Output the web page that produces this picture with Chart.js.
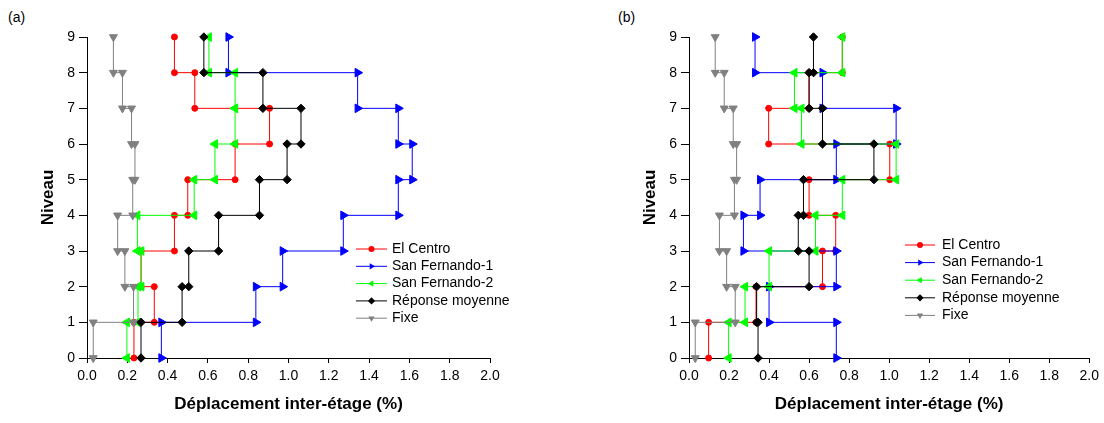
<!DOCTYPE html>
<html>
<head>
<meta charset="utf-8">
<script src="https://cdn.jsdelivr.net/npm/chart.js@4/dist/chart.umd.min.js"></script>
<style>
  body { margin: 0; background: #fff; width: 1104px; height: 423px; position: relative; overflow: hidden;
         font-family: "Liberation Sans", Arial, sans-serif; }
  .panel { position: absolute; top: 0; }
  .tag { position: absolute; top: 9px; font-size: 14px; line-height: 16px; color: #000; }
</style>
</head>
<body>
<div class="tag" style="left:8px">(a)</div>
<div class="tag" style="left:618px">(b)</div>
<div class="panel" style="left:0"><canvas id="chartA" width="560" height="423"></canvas></div>
<div class="panel" style="left:602px"><canvas id="chartB" width="502" height="423"></canvas></div>
<script>
// ===== data =====
const levels = [0, 1, 2, 3, 4, 5, 6, 7, 8, 9];
const seriesNames = ["El Centro", "San Fernando-1", "San Fernando-2", "Réponse moyenne", "Fixe"];
const xTicks = [0.0, 0.2, 0.4, 0.6, 0.8, 1.0, 1.2, 1.4, 1.6, 1.8, 2.0];
const yTicks = [0, 1, 2, 3, 4, 5, 6, 7, 8, 9];

// storey drifts (%) for storeys 1..9 - panel (a)
const elCentroA     = [0.233, 0.334, 0.268, 0.434, 0.500, 0.735, 0.906, 0.535, 0.434];
const sanFernando1A = [0.369, 0.838, 0.971, 1.272, 1.545, 1.614, 1.545, 1.343, 0.702];
const sanFernando2A = [0.198, 0.253, 0.270, 0.250, 0.532, 0.635, 0.735, 0.735, 0.605];
const moyenneA      = [0.268, 0.472, 0.505, 0.653, 0.856, 0.993, 1.062, 0.873, 0.580];
const fixeA         = [0.031, 0.231, 0.188, 0.152, 0.227, 0.238, 0.221, 0.176, 0.131];

// panel (b)
const elCentroB     = [0.098, 0.335, 0.667, 0.733, 0.600, 1.003, 0.398, 0.600, 0.766];
const sanFernando1B = [0.736, 0.400, 0.736, 0.272, 0.355, 0.736, 1.035, 0.667, 0.330];
const sanFernando2B = [0.198, 0.280, 0.400, 0.632, 0.766, 1.035, 0.562, 0.527, 0.766];
const moyenneB      = [0.345, 0.338, 0.600, 0.546, 0.572, 0.924, 0.667, 0.600, 0.622];
const fixeB         = [0.031, 0.231, 0.188, 0.152, 0.227, 0.238, 0.221, 0.176, 0.131];

// ===== styles =====
const FONT = "'Liberation Sans', Arial, sans-serif";
const styles = [
  { color: "#ff0000", pointStyle: "circle", rotation: 0, radius: 3 },
  { color: "#0000ff", pointStyle: "triangle", rotation: 90, radius: 5 },
  { color: "#00ff00", pointStyle: "triangle", rotation: -90, radius: 5 },
  { color: "#000000", pointStyle: "rectRot", rotation: 0, radius: 4.2 },
  { color: "#808080", pointStyle: "triangle", rotation: 180, radius: 4.6 },
];

// drift of storey i runs vertically from level i-1 to level i
function stepProfile(drifts) {
  const pts = [];
  drifts.forEach((d, i) => {
    pts.push({ x: d, y: levels[i] }, { x: d, y: levels[i + 1] });
  });
  return pts;
}

function makeDatasets(series) {
  return series.map((drifts, i) => ({
    label: seriesNames[i],
    data: stepProfile(drifts),
    showLine: true,
    borderColor: styles[i].color,
    backgroundColor: styles[i].color,
    pointBackgroundColor: styles[i].color,
    pointBorderColor: styles[i].color,
    pointStyle: styles[i].pointStyle,
    pointRotation: styles[i].rotation,
    pointRadius: styles[i].radius,
    pointHoverRadius: styles[i].radius,
    pointBorderWidth: 1,
    borderWidth: 1,
    clip: false,
    order: series.length - i,
  }));
}

// ===== legend drawn inside the plot =====
const stepLegend = {
  id: "stepLegend",
  afterDraw(chart, args, opts) {
    const ctx = chart.ctx;
    ctx.save();
    ctx.font = "14px " + FONT;
    ctx.textBaseline = "middle";
    ctx.textAlign = "left";
    chart.data.datasets.forEach((ds, i) => {
      const y = opts.y + i * opts.rowGap;
      ctx.strokeStyle = ds.borderColor;
      ctx.lineWidth = 1;
      ctx.beginPath();
      ctx.moveTo(opts.x, y);
      ctx.lineTo(opts.x + opts.lineLen, y);
      ctx.stroke();
      ctx.fillStyle = ds.pointBackgroundColor;
      Chart.helpers.drawPoint(ctx, {
        pointStyle: ds.pointStyle, rotation: ds.pointRotation,
        radius: ds.pointStyle === "circle" ? 3 : 3.6, borderWidth: 0,
      }, opts.x + opts.lineLen / 2, y);
      ctx.fillStyle = "#000";
      ctx.fillText(ds.label, opts.x + opts.lineLen + opts.gap, y);
    });
    ctx.restore();
  },
};

function makeChart(id, series, legendPos, padRight) {
  return new Chart(document.getElementById(id), {
    type: "scatter",
    data: { datasets: makeDatasets(series) },
    options: {
      responsive: false,
      animation: false,
      layout: { padding: { left: 34, right: padRight, top: 37, bottom: 4 } },
      plugins: {
        legend: { display: false },
        tooltip: { enabled: false },
        stepLegend: legendPos,
      },
      scales: {
        x: {
          type: "linear", min: 0, max: 2,
          afterBuildTicks: (axis) => { axis.ticks = xTicks.map((v) => ({ value: v })); },
          afterFit: (axis) => { axis.height = 61; },
          ticks: {
            callback: (v) => Number(v).toFixed(1),
            font: { size: 14, family: FONT }, color: "#000", padding: 5,
            maxRotation: 0, autoSkip: false,
          },
          grid: { drawOnChartArea: false, drawTicks: true, tickLength: 5, color: "#000" },
          border: { display: true, color: "#000", width: 1 },
          title: {
            display: true, text: "Déplacement inter-étage (%)", color: "#000",
            font: { size: 17, weight: "bold", family: FONT }, padding: { top: 4, bottom: 4 },
          },
        },
        y: {
          type: "linear", min: 0, max: 9,
          afterBuildTicks: (axis) => { axis.ticks = yTicks.map((v) => ({ value: v })); },
          afterFit: (axis) => { axis.width = 53; },
          ticks: { font: { size: 14, family: FONT }, color: "#000", padding: 4, autoSkip: false },
          grid: { drawOnChartArea: false, drawTicks: true, tickLength: 8, color: "#000" },
          border: { display: true, color: "#000", width: 1 },
          title: {
            display: true, text: "Niveau", color: "#000",
            font: { size: 17, weight: "bold", family: FONT }, padding: { top: 4, bottom: 4 },
          },
        },
      },
    },
    plugins: [stepLegend],
  });
}

makeChart("chartA", [elCentroA, sanFernando1A, sanFernando2A, moyenneA, fixeA],
  { x: 356, y: 249, rowGap: 17.3, lineLen: 31, gap: 5 }, 70);
makeChart("chartB", [elCentroB, sanFernando1B, sanFernando2B, moyenneB, fixeB],
  { x: 303, y: 245, rowGap: 17.6, lineLen: 30, gap: 7 }, 12);
</script>
</body>
</html>
